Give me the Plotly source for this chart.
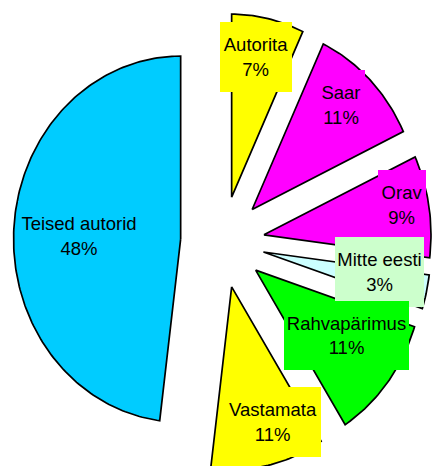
import numpy as np
import plotly.graph_objects as go

# ---- data ----
labels = ["Autorita", "Saar", "Orav", "Mitte eesti", "Rahvapärimus", "Vastamata", "Teised autorid"]
values = [7, 11, 9, 3, 11, 11, 48]

# ---- styles ----
slice_colors = ["#FFFF00", "#FF00FF", "#FF00FF", "#CCFFFF", "#00FF00", "#FFFF00", "#00CCFF"]
label_bg = ["#FFFF00", "#FF00FF", "#FF00FF", "#CCFFCC", "#00FF00", "#FFFF00", "#00CCFF"]
label_r = [0.78, 0.78, 0.84, 0.706, 0.65, 0.78, 0.61]          # radial position of label (fraction of radius)
label_dang = [-1.8, -2.3, -2.1, -3.7, -4.5, -5.9, -2.1]        # angular nudge of label (deg)
label_box = [(72, 70), (48, 70), (48, 70), (89, 70), (125, 69), (96, 70), (122, 70)]

K = 0.913        # horizontal squash of the pie (ellipse aspect)
PULL = 0.251     # explosion distance (fraction of radius)
W, H = 432, 466
PX = 183.0       # pixels per radius unit
CX, CY = 222.5, 242.0  # pie centre in pixels

total = float(sum(values))
fig = go.Figure()

ann = []
start = 0.0
for i, (lab, v) in enumerate(zip(labels, values)):
    a0 = start
    a1 = start + 360.0 * v / total
    start = a1
    am = np.radians((a0 + a1) / 2)
    ox, oy = PULL * K * np.sin(am), PULL * np.cos(am)
    n = max(8, int((a1 - a0) / 1.0))
    th = np.radians(np.linspace(a0, a1, n))
    xs = np.concatenate([[0.0], K * np.sin(th), [0.0]]) + ox
    ys = np.concatenate([[0.0], np.cos(th), [0.0]]) + oy
    fig.add_trace(go.Scatter(
        x=xs, y=ys, mode="lines", fill="toself",
        fillcolor=slice_colors[i],
        line=dict(color="#000000", width=1.7),
        name=lab, hoverinfo="name", showlegend=False,
    ))
    al = am + np.radians(label_dang[i])
    lx = ox + label_r[i] * K * np.sin(al)
    ly = oy + label_r[i] * np.cos(al)
    pct = round(100 * v / total)
    ann.append(dict(
        x=lx, y=ly, xref="x", yref="y",
        text=f"{lab}<br>{pct}%", showarrow=False,
        font=dict(family="Liberation Sans, Arial, sans-serif", size=18.5, color="#000000"),
        bgcolor=label_bg[i], borderpad=0, borderwidth=0,
        width=label_box[i][0], height=label_box[i][1],
        align="center", valign="middle",
        xanchor="center", yanchor="middle",
    ))

fig.update_layout(
    width=W, height=H,
    margin=dict(l=0, r=0, t=0, b=0),
    paper_bgcolor="white", plot_bgcolor="white",
    annotations=ann,
    xaxis=dict(range=[-CX / PX, (W - CX) / PX], visible=False, fixedrange=True),
    yaxis=dict(range=[-(H - CY) / PX, CY / PX], visible=False, fixedrange=True),
    showlegend=False,
)

fig.write_html("out.html", config={"displayModeBar": False},
               post_script="document.body.style.margin='0px';")
